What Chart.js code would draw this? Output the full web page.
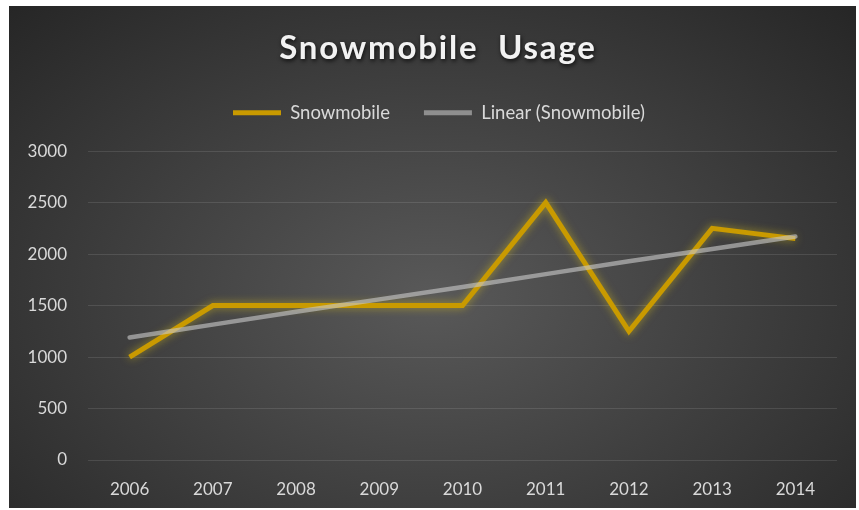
<!DOCTYPE html>
<html>
<head>
<meta charset="utf-8">
<script src="https://cdn.jsdelivr.net/npm/chart.js@4"></script>
<style>
  html, body { margin: 0; padding: 0; background: #ffffff; }
  body { width: 859px; height: 510px; position: relative; overflow: hidden; }
  #wrap {
    position: absolute; left: 9px; top: 6px; width: 847px; height: 502px;
    background: radial-gradient(ellipse farthest-corner at 50% 58%, #595959 0%, #424242 45%, #262626 100%);
  }
  canvas { display: block; }
</style>
</head>
<body>
<div id="wrap"><canvas id="c" width="847" height="502"></canvas></div>
<script>
const years = ['2006', '2007', '2008', '2009', '2010', '2011', '2012', '2013', '2014'];
const snowmobile = [1000, 1500, 1500, 1500, 1500, 2500, 1250, 2250, 2150];
const linearTrend = [1190, 1315, 1440, 1560, 1680, 1805, 1930, 2050, 2170];
const seriesNames = ['Snowmobile', 'Linear (Snowmobile)'];
const yTicks = [0, 500, 1000, 1500, 2000, 2500, 3000];

const GOLD = '#C99A00';
const TREND = 'rgba(200,200,200,0.62)';
const TREND_LEGEND = '#8f8f8f';
const FONT = 'Lato, "Open Sans", sans-serif';

const effects = {
  id: 'effects',
  afterInit(chart) {
    const tb = chart.titleBlock;
    if (tb) {
      const orig = tb.draw.bind(tb);
      tb.draw = function () {
        const ctx = chart.ctx;
        ctx.save();
        ctx.shadowColor = 'rgba(0,0,0,0.75)';
        ctx.shadowBlur = 4;
        ctx.shadowOffsetX = 1;
        ctx.shadowOffsetY = 2;
        ctx.letterSpacing = '1.8px';
        orig();
        ctx.restore();
      };
    }
    const lg = chart.legend;
    if (lg) {
      const of = lg.fit.bind(lg);
      lg.fit = function () { of(); this.height += 19; };
    }
  },
  afterLayout(chart) {
    const lg = chart.legend;
    if (lg) { lg.left += 16; lg.right += 16; }
    const tb = chart.titleBlock;
    if (tb) { tb.left += 15; tb.right += 15; }
  },
  beforeDatasetDraw(chart, args) {
    if (args.index === 0) {
      const ctx = chart.ctx;
      ctx.save();
      ctx.shadowColor = 'rgba(235,205,20,0.55)';
      ctx.shadowBlur = 9;
    }
  },
  afterDatasetDraw(chart, args) {
    if (args.index === 0) chart.ctx.restore();
  }
};

new Chart(document.getElementById('c'), {
  type: 'line',
  data: {
    labels: years,
    datasets: [
      {
        label: seriesNames[0],
        data: snowmobile,
        borderColor: GOLD,
        backgroundColor: GOLD,
        borderWidth: 5,
        pointRadius: 0,
        tension: 0,
        borderJoinStyle: 'miter',
        order: 2
      },
      {
        label: seriesNames[1],
        data: linearTrend,
        borderColor: TREND,
        backgroundColor: TREND_LEGEND,
        borderWidth: 4.5,
        pointRadius: 0,
        tension: 0,
        borderCapStyle: 'round',
        order: 1
      }
    ]
  },
  options: {
    responsive: false,
    animation: false,
    devicePixelRatio: 1,
    layout: { padding: { left: 0, right: 19, top: 0, bottom: 0 } },
    plugins: {
      tooltip: { enabled: false },
      title: {
        display: true,
        text: 'Snowmobile  Usage',
        color: '#f2f2f2',
        font: { family: FONT, size: 33, weight: 'bold' },
        padding: { top: 23, bottom: 1 }
      },
      legend: {
        display: true,
        position: 'top',
        labels: {
          color: '#d9d9d9',
          font: { family: FONT, size: 18.5 },
          boxWidth: 48,
          boxHeight: 5,
          padding: 34,
          generateLabels(chart) {
            return chart.data.datasets.map((ds, i) => ({
              text: ds.label,
              fillStyle: ds.backgroundColor,
              strokeStyle: ds.backgroundColor,
              lineWidth: 0,
              fontColor: '#d9d9d9',
              hidden: false,
              datasetIndex: i
            }));
          }
        }
      }
    },
    scales: {
      x: {
        offset: true,
        afterFit(scale) { scale.height = 48; },
        grid: { display: false, drawTicks: false },
        border: { display: false },
        ticks: {
          color: '#d9d9d9',
          font: { family: FONT, size: 17 },
          padding: 19,
          maxRotation: 0
        }
      },
      y: {
        min: 0,
        max: 3000,
        afterBuildTicks(scale) { scale.ticks = yTicks.map(v => ({ value: v })); },
        afterFit(scale) { scale.width = 79; },
        grid: { color: 'rgba(255,255,255,0.11)', lineWidth: 1, drawTicks: false },
        border: { display: false },
        ticks: {
          color: '#d9d9d9',
          font: { family: FONT, size: 17 },
          padding: 21,
          callback: (v) => String(v)
        }
      }
    }
  },
  plugins: [effects]
});
</script>
</body>
</html>
